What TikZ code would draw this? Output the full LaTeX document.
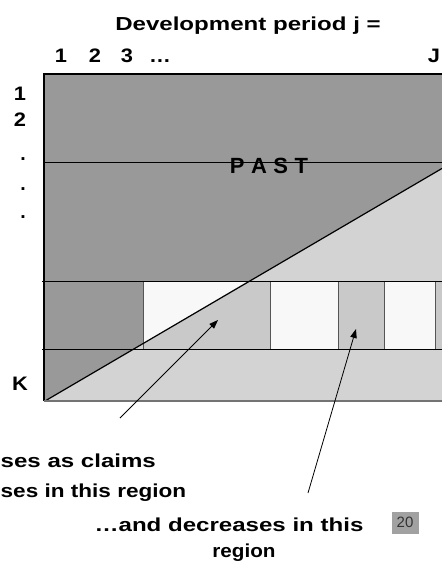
\documentclass[tikz,border=0pt]{standalone}
\usepackage{fontspec}
\setmainfont{Liberation Sans}
\usetikzlibrary{arrows.meta}
\newcommand\hsq[1]{\scalebox{1.28}[1]{#1}}
\newcommand\hsn[1]{\scalebox{1.12}[1]{#1}}
\definecolor{darkg}{HTML}{999999}
\definecolor{lightg}{HTML}{D3D3D3}
\definecolor{midg}{HTML}{C9C9C9}
\definecolor{paleg}{HTML}{F8F8F8}
\definecolor{edgeg}{HTML}{555555}
\begin{document}
\begin{tikzpicture}[x=1pt,y=-1pt,
  lbl/.style={font=\bfseries\fontsize{18.8}{22}\selectfont, inner sep=0pt, anchor=base},
  num/.style={font=\bfseries\fontsize{19.5}{22}\selectfont, inner sep=0pt, anchor=base},
  arr/.style={draw=black, line width=0.8pt, -{Triangle[length=9pt,width=6.5pt]}},
  bandbox/.style={draw=edgeg, line width=0.8pt},
  grid/.style={draw=black, line width=0.9pt}]
\useasboundingbox (0,0) rectangle (441,561);
% background regions
\fill[darkg] (44,74) rectangle (470,401);
\fill[lightg] (45,401) -- (453,162) -- (470,162) -- (470,401) -- cycle;
% band boxes
\fill[midg] (143,281) rectangle (270,349);
\fill[paleg] (143,281) -- (248,281) -- (143,343) -- cycle;
\fill[paleg] (270,281) rectangle (338,349);
\fill[midg] (338,281) rectangle (384,349);
\fill[paleg] (384,281) rectangle (435,349);
\fill[midg] (435,281) rectangle (470,349);
\draw[bandbox] (143,281) -- (143,349);
\draw[bandbox] (270,281) -- (270,349);
\draw[bandbox] (338,281) -- (338,349);
\draw[bandbox] (384,281) -- (384,349);
\draw[bandbox] (435,281) -- (435,349);
% lines
\draw[grid] (44,162) -- (470,162);
\draw[grid] (42,281) -- (470,281);
\draw[grid] (42,349) -- (470,349);
\draw[black, line width=1.2pt] (45,401) -- (453,162);
\draw[black, line width=1.2pt] (44,401) -- (44,74) -- (470,74);
\draw[draw=black!55, line width=1.1pt] (44,401) -- (470,401);
% headings
\node[lbl] (head) at (248,31) {\hsq{Development period j =}};
\node[num] (c1) at (61,63) {\hsn{1}};
\node[num] (c2) at (95,63) {\hsn{2}};
\node[num] (c3) at (127,63) {\hsn{3}};
\node[num] (c4) at (160,63) {\hsn{…}};
\node[num] (cJ) at (434,63) {\hsn{J}};
\node[num] (r1) at (20,101) {\hsn{1}};
\node[num] (r2) at (20,127) {\hsn{2}};
\node[num] (r3) at (23,161) {.};
\node[num] (r4) at (23,190) {.};
\node[num] (r5) at (23,218) {.};
\node[num] (rK) at (20,390) {\hsn{K}};
\node[font=\bfseries\fontsize{22}{24}\selectfont, inner sep=0pt, anchor=base] (past) at (269,174) {P\kern6.5pt A\kern6.5pt S\kern6.5pt T};
% bottom labels
\node[lbl, anchor=base west] (la1) at (0.5,467) {\hsq{ses as claims}};
\node[lbl, anchor=base west] (la2) at (0.5,497) {\scalebox{1.2}[1]{ses in this region}};
\node[lbl] (lb1) at (229,531) {\hsq{…and decreases in this}};
\node[lbl] (lb2) at (244,557) {\scalebox{1.1}[1]{region}};
% arrows
\coordinate (t1) at (120,418);
\coordinate (h1) at (218,320);
\coordinate (t2) at (308,493);
\coordinate (h2) at (356,329);
\draw[arr] (t1) -- (h1);
\draw[arr] (t2) -- (h2);
% page number
\node[fill=black!37, text=black!80, font=\fontsize{15}{17}\selectfont, minimum width=27pt, minimum height=22pt, inner sep=0pt] (pg) at (405,522.5) {20};
\end{tikzpicture}
\end{document}
